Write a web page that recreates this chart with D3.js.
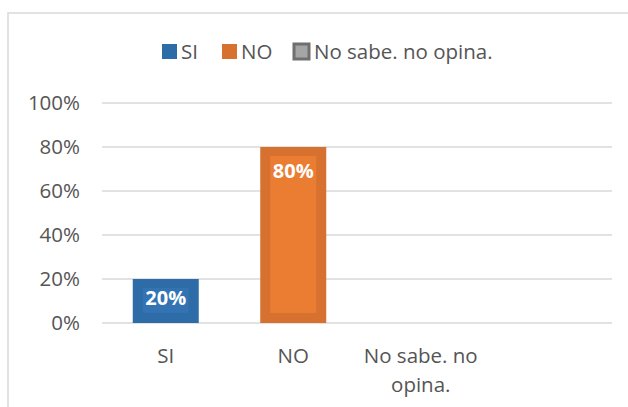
<!DOCTYPE html>
<html>
<head>
<meta charset="utf-8">
<script src="https://cdn.jsdelivr.net/npm/d3@7"></script>
<style>
  body { margin: 0; background: #fff; }
  text { font-family: "Open Sans", sans-serif; }
</style>
</head>
<body>
<svg class="chart" width="628" height="407"></svg>
<script>
// data
var categories = ["SI", "NO", "No sabe. no opina.", ""];
var values = [20, 80, 0, null];
var yTicks = [0, 20, 40, 60, 80, 100];
var legendNames = ["SI", "NO", "No sabe. no opina."];

var outerColor = ["#2e6ca8", "#d7712f", "#6f6f6f"];
var innerColor = ["#3372b3", "#eb7d33", "#a5a5a5"];

var svg = d3.select(".chart");

// chart frame
svg.append("rect")
    .attr("x", 8).attr("y", 13)
    .attr("width", 640).attr("height", 420)
    .attr("fill", "none")
    .attr("stroke", "#d9d9d9")
    .attr("stroke-width", 1.5);

var x = d3.scaleBand()
    .domain(d3.range(categories.length))
    .range([102, 612]);

var y = d3.scaleLinear()
    .domain([0, 100])
    .range([323, 103]);

// gridlines
svg.append("g")
    .selectAll("line")
    .data(yTicks)
    .enter()
    .append("line")
    .attr("x1", 102).attr("x2", 612)
    .attr("y1", d => y(d)).attr("y2", d => y(d))
    .attr("stroke", "#d9d9d9")
    .attr("stroke-width", 1.5);

// y labels
svg.append("g")
    .selectAll("text")
    .data(yTicks)
    .enter()
    .append("text")
    .attr("x", 80)
    .attr("y", d => y(d))
    .attr("dy", "0.36em")
    .attr("text-anchor", "end")
    .attr("fill", "#555")
    .style("font-size", "20.5px")
    .text(d => d + "%");

// bars
var barW = 66;
var bars = svg.append("g")
    .selectAll("g")
    .data(values.map((v, i) => ({ v: v, i: i })).filter(d => d.v > 0))
    .enter()
    .append("g");

bars.append("rect")
    .attr("x", d => x(d.i) + x.bandwidth() / 2 - barW / 2)
    .attr("y", d => y(d.v))
    .attr("width", barW)
    .attr("height", d => y(0) - y(d.v))
    .attr("fill", d => outerColor[d.i]);

bars.append("rect")
    .attr("x", d => x(d.i) + x.bandwidth() / 2 - barW / 2 + 10)
    .attr("y", d => y(d.v) + 9)
    .attr("width", barW - 20)
    .attr("height", d => Math.max(0, y(0) - y(d.v) - 19))
    .attr("fill", d => innerColor[d.i]);

bars.append("text")
    .attr("x", d => x(d.i) + x.bandwidth() / 2)
    .attr("y", d => Math.min(y(d.v) + 27, (y(d.v) + y(0)) / 2) - 3)
    .attr("dy", "0.36em")
    .attr("text-anchor", "middle")
    .attr("fill", "#fff")
    .style("font-size", "20px")
    .style("font-weight", "bold")
    .text(d => d.v + "%");

// x labels
var xl = svg.append("g")
    .selectAll("text")
    .data(categories)
    .enter()
    .append("text")
    .attr("x", (d, i) => x(i) + x.bandwidth() / 2)
    .attr("y", 363)
    .attr("text-anchor", "middle")
    .attr("fill", "#555")
    .style("font-size", "20.5px");

xl.each(function (d) {
    var lines = d === "No sabe. no opina." ? ["No sabe. no", "opina."] : [d];
    var t = d3.select(this);
    lines.forEach((l, k) => {
        t.append("tspan")
            .attr("x", t.attr("x"))
            .attr("dy", k === 0 ? 0 : 29)
            .text(l);
    });
});

// legend
var legendX = [162, 222, 294];
var lg = svg.append("g")
    .selectAll("g")
    .data(legendNames)
    .enter()
    .append("g")
    .attr("transform", (d, i) => "translate(" + legendX[i] + ",44)");

lg.append("rect")
    .attr("width", 15).attr("height", 15)
    .attr("fill", (d, i) => i === 2 ? innerColor[i] : outerColor[i])
    .attr("stroke", (d, i) => i === 2 ? outerColor[i] : "none")
    .attr("stroke-width", 3);

lg.append("text")
    .attr("x", (d, i) => i === 2 ? 20 : 19)
    .attr("y", 8)
    .attr("dy", "0.36em")
    .attr("fill", "#555")
    .style("font-size", "20.5px")
    .text(d => d);
</script>
</body>
</html>
